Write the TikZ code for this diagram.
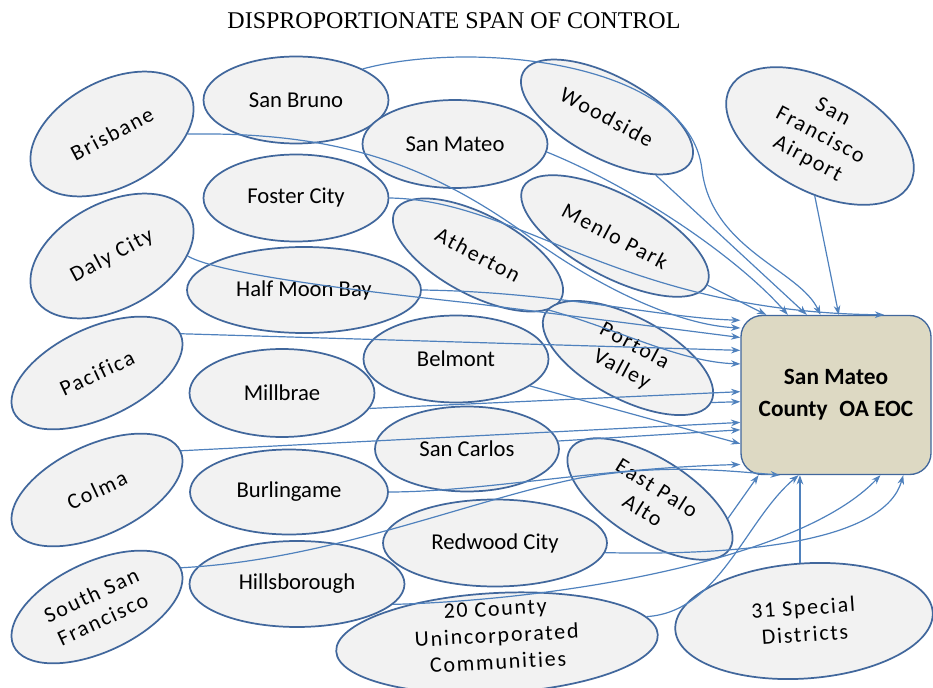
\documentclass[tikz,border=0pt]{standalone}
\usepackage{fontspec}
\setmainfont{Carlito}
\newfontfamily\spacedfam[LetterSpace=8,Ligatures=NoCommon]{Carlito}
\newfontfamily\titlefam{Liberation Serif}
\usepackage{tikz}
\usetikzlibrary{shapes.geometric,arrows.meta}
\definecolor{rimblue}{HTML}{41679C}
\definecolor{linkblue}{HTML}{4F81BD}
\definecolor{cellgray}{HTML}{F2F2F2}
\definecolor{eoctan}{HTML}{DDD9C3}
\tikzset{
	town/.style 2 args={ellipse, draw=rimblue, fill=cellgray, line width=1.3pt, inner sep=0pt,
		minimum width=#1*0.75pt, minimum height=#2*0.75pt, align=center,
		font=\fontsize{17}{20}\selectfont},
	tilted/.style={font=\spacedfam\fontsize{16.5}{20}\selectfont},
	feed/.style={draw=linkblue, line width=0.9pt, -{Stealth[length=7pt,width=5pt]}},
	hub/.style={rectangle, rounded corners=16pt, draw=rimblue, fill=eoctan, line width=1pt,
		minimum width=190*0.75pt, minimum height=159*0.75pt, align=center,
		font=\bfseries\fontsize{17.5}{24}\selectfont},
	heading/.style={font=\titlefam\fontsize{18}{20}\selectfont}
}
\begin{document}
\begin{tikzpicture}[x=0.75pt,y=-0.75pt]
	\useasboundingbox (0,0) rectangle (933,688);
	
	\node[heading] (title) at (454,21) {DISPROPORTIONATE SPAN OF CONTROL};
	
	\node[town={176}{106}, tilted, rotate=28] (bri) at (112,134) {Brisbane};
	\node[town={176}{106}, tilted, rotate=28] (daly) at (112,256) {Daly City};
	\node[town={184}{90}, tilted, rotate=25] (pac) at (97,373) {Pacifica};
	\node[town={184}{90}, tilted, rotate=25] (col) at (97,490) {Colma};
	\node[town={184}{90}, tilted, rotate=25] (ssf) at (97,607) {South San\\Francisco};
	
	\node[town={185}{87}] (sbr) at (296,100) {San Bruno};
	\node[town={185}{87}] (fos) at (296,198) {Foster City};
	\node[town={234}{86}] (hmb) at (304,290) {Half Moon Bay};
	\node[town={185}{88}] (mil) at (282,393) {Millbrae};
	\node[town={198}{85}] (bur) at (289,492) {Burlingame};
	\node[town={215}{86}] (hil) at (297,584) {Hillsborough};
	
	\node[town={185}{88}] (smt) at (455,144) {San Mateo};
	\node[town={185}{87}] (bel) at (456,359) {Belmont};
	\node[town={184}{85}] (sca) at (467,449) {San Carlos};
	\node[town={224}{87}] (rwc) at (495,543) {Redwood City};
	
	\node[town={188}{80}, tilted, rotate=-28] (ath) at (478,255) {Atherton};
	\node[town={190}{82}, tilted, rotate=-28] (woo) at (607,117) {Woodside};
	\node[town={208}{82}, tilted, rotate=-28] (mpk) at (615,236) {Menlo Park};
	\node[town={204}{112}, tilted, rotate=-28] (sfo) at (820,136) {San\\Francisco\\Airport};
	\node[town={188}{82}, tilted, rotate=-28] (ptv) at (628,358) {Portola\\Valley};
	\node[town={188}{82}, tilted, rotate=-32] (epa) at (650,499) {East Palo\\Alto};
	
	\node[town={258}{115}, tilted, rotate=4] (spd) at (804,621) {31 Special\\Districts};
	\node[town={322}{100}, tilted, rotate=3] (cty) at (497,643)
		{\smash{\begin{tabular}{@{}c@{}}20 County\\Unincorporated\\Communities\end{tabular}}};
	
	\node[hub] (eoc) at (836,395) {San Mateo\\County\enspace OA EOC};
	
	\draw[feed] (sbr.25) .. controls (470,40) and (690,60) .. (702,170) .. controls (712,250) and (800,270) .. (eoc.101);
	\draw[feed] (woo.-22) -- (eoc.110.6);
	\draw[feed] (smt.-5) .. controls (640,190) and (740,260) .. (eoc.121.5);
	\draw[feed] (sfo.-67) -- (eoc.88.6);
	\draw[feed] (mpk.east) -- (eoc.131.2);
	\draw[feed] (fos.east) .. controls (520,200) and (620,312) .. (eoc.59);
	\draw[feed] (bri.-28) .. controls (330,132) and (420,160) .. (520,230) .. controls (600,290) and (680,325) .. (eoc.145.6);
	\draw[feed] (daly.-28) .. controls (215,272) and (330,288) .. (470,303) -- (eoc.149.9);
	\draw[feed] (hmb.east) .. controls (560,292) and (660,318) .. (eoc.142.5);
	\draw[feed] (pac.east) -- (eoc.155.6);
	\draw[feed] (ath.-10) .. controls (620,330) and (680,362) .. (eoc.162.5);
	\draw[feed] (ptv.east) -- (eoc.184.2);
	\draw[feed] (mil.-10) -- (eoc.178);
	\draw[feed] (col.east) -- (eoc.196);
	\draw[feed] (bel.-20) -- (eoc.207.8);
	\draw[feed] (sca.5) -- (eoc.200.2);
	\draw[feed] (bur.east) .. controls (480,492) and (600,468) .. (eoc.216.8);
	\draw[feed] (epa.18) -- (eoc.226.9);
	\draw[feed] (ssf.east) .. controls (330,560) and (470,500) .. (580,478) .. controls (660,464) and (720,470) .. (eoc.235);
	\draw[feed] (rwc.-5) .. controls (750,556) and (885,540) .. (eoc.310.7);
	\draw[feed] (hil.-12) .. controls (560,600) and (800,560) .. (eoc.299.1);
	\draw[feed] (cty.7) .. controls (720,612) and (745,520) .. (eoc.245.5);
	\draw[feed] (spd.north) -- (spd.north |- eoc.south);
	
\end{tikzpicture}
\end{document}
